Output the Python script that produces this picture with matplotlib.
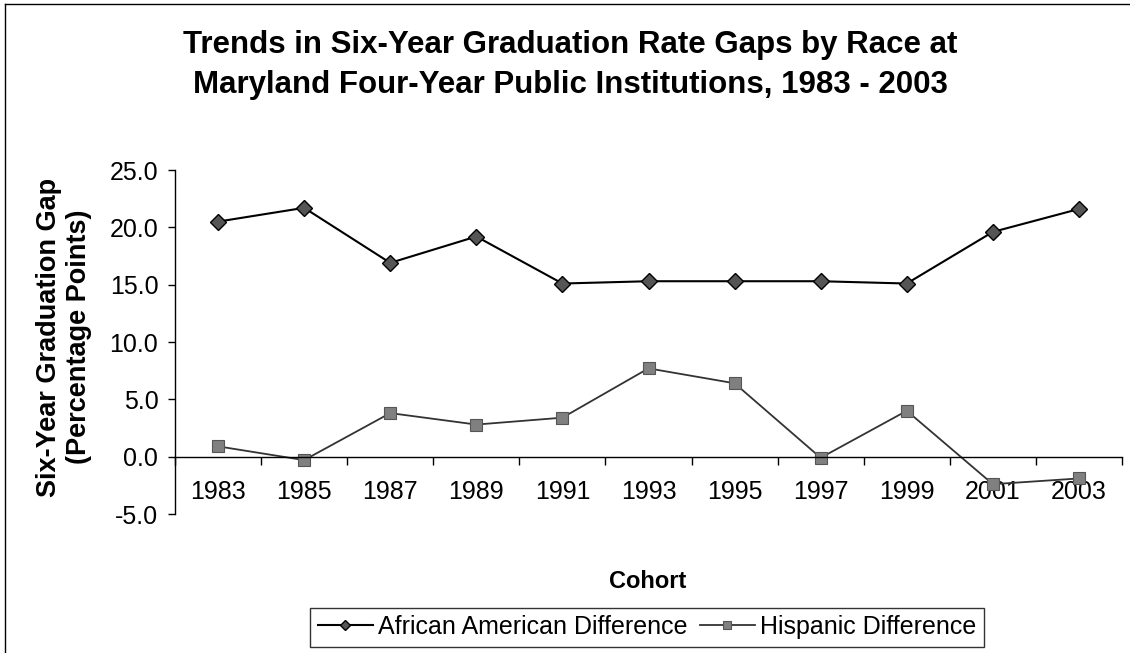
import matplotlib
matplotlib.use("Agg")
import matplotlib.pyplot as plt
from matplotlib.lines import Line2D
from matplotlib.ticker import FixedLocator

# -----------------------------
# DATA
# -----------------------------
cohorts = ["1983", "1985", "1987", "1989", "1991", "1993",
           "1995", "1997", "1999", "2001", "2003"]
african_american = [20.5, 21.7, 16.9, 19.2, 15.1, 15.3,
                    15.3, 15.3, 15.1, 19.6, 21.6]
hispanic = [0.9, -0.3, 3.8, 2.8, 3.4, 7.7,
            6.4, -0.1, 4.0, -2.4, -1.9]
y_ticks = [-5, 0, 5, 10, 15, 20, 25]

# -----------------------------
# FIGURE
# -----------------------------
W, H = 1130, 653
plt.rcParams["font.family"] = ["Liberation Sans", "DejaVu Sans"]
fig = plt.figure(figsize=(W / 100, H / 100), dpi=100)
ax = fig.add_axes([175 / W, 1 - 514 / H, (1122 - 175) / W, (514 - 170) / H])

x = list(range(len(cohorts)))
ax.plot(x, african_american, color="black", lw=1.5, marker="D",
        markersize=8, markerfacecolor="#555555", markeredgecolor="black",
        markeredgewidth=1.0, label="African American Difference")
ax.plot(x, hispanic, color="#333333", lw=1.3, marker="s",
        markersize=8, markerfacecolor="#808080", markeredgecolor="#555555",
        markeredgewidth=0.8, label="Hispanic Difference")

ax.set_xlim(-0.5, len(cohorts) - 0.5)
ax.set_ylim(-5, 25)
ax.set_yticks(y_ticks)
ax.set_yticklabels([f"{v:.1f}" for v in y_ticks])

ax.set_xticks(x)
ax.set_xticklabels(cohorts)
ax.xaxis.set_minor_locator(FixedLocator([i - 0.5 for i in range(len(cohorts) + 1)]))
ax.tick_params(axis="x", which="major", length=0, pad=17, labelsize=18)
ax.tick_params(axis="x", which="minor", length=6, direction="out", width=1)
ax.tick_params(axis="y", length=5, direction="out", width=1, pad=7,
               labelsize=18)

ax.spines["top"].set_visible(False)
ax.spines["right"].set_visible(False)
ax.spines["bottom"].set_position(("data", 0))
for s in ("left", "bottom"):
    ax.spines[s].set_linewidth(1.0)

# -----------------------------
# TEXT
# -----------------------------
fig.text(570 / W, 1 - 65 / H,
         "Trends in Six-Year Graduation Rate Gaps by Race at\n"
         "Maryland Four-Year Public Institutions, 1983 - 2003",
         ha="center", va="center", fontsize=22.5, fontweight="bold",
         linespacing=1.4)
fig.text(64 / W, 1 - 337 / H,
         "Six-Year Graduation Gap\n(Percentage Points)",
         ha="center", va="center", rotation=90, fontsize=19.5,
         fontweight="bold", linespacing=1.2)
fig.text(648 / W, 1 - 581 / H, "Cohort", ha="center", va="center",
         fontsize=17, fontweight="bold")

leg = fig.legend(loc="center", bbox_to_anchor=(647 / W, 1 - 627 / H),
                 ncol=2, fontsize=18, frameon=True, fancybox=False,
                 edgecolor="black", handlelength=2.2, handletextpad=0.2,
                 columnspacing=0.5, borderpad=0.3, markerscale=0.7,
                 borderaxespad=0)
leg.get_frame().set_linewidth(1.0)

# outer chart border (left and top visible)
fig.add_artist(Line2D([5 / W, 5 / W], [0, 1 - 4 / H], color="black", lw=1.0))
fig.add_artist(Line2D([5 / W, 1], [1 - 4 / H, 1 - 4 / H], color="black", lw=1.0))

fig.savefig("out.png", dpi=100)
